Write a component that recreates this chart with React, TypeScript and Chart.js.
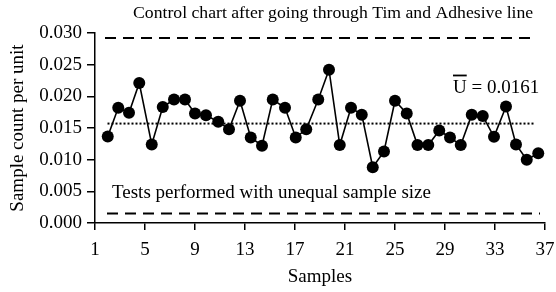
import React, { useEffect, useRef } from "react";
import { Chart, registerables } from "chart.js";

Chart.register(...registerables);

const sampleX = [
  2.02, 2.86, 3.72, 4.54, 5.54, 6.42, 7.32, 8.2, 9.0, 9.88,
  10.86, 11.72, 12.6, 13.46, 14.36, 15.22, 16.2, 17.06, 17.9, 18.86,
  19.72, 20.58, 21.48, 22.34, 23.22, 24.12, 25.0, 25.94, 26.8, 27.66,
  28.54, 29.4, 30.26, 31.14, 32.02, 32.92, 33.88, 34.68, 35.54, 36.46,
];
const sampleU = [
  0.01365, 0.0182, 0.0174, 0.0221, 0.0124, 0.0183, 0.0195, 0.0195, 0.0173, 0.0170,
  0.0160, 0.0148, 0.0193, 0.0135, 0.0122, 0.0195, 0.0182, 0.0135, 0.0148, 0.0195,
  0.0242, 0.0123, 0.0182, 0.0171, 0.0088, 0.0113, 0.0193, 0.0173, 0.0123, 0.0123,
  0.0146, 0.0135, 0.0123, 0.0171, 0.0169, 0.0136, 0.0184, 0.0124, 0.0100, 0.0110,
];
const uclX = [1.8, 35.8];
const uclValue = 0.0292;
const lclX = [1.96, 36.6];
const lclValue = 0.0015;
const meanX = [2.0, 36.2];
const meanValue = 0.0157;
const meanLabel = "U = 0.0161";
const xTicks = [1, 5, 9, 13, 17, 21, 25, 29, 33, 37];
const yTicks = [0, 0.005, 0.01, 0.015, 0.02, 0.025, 0.03];
const chartTitle = "Control chart after going through Tim and Adhesive line";
const noteText = "Tests performed with unequal sample size";
const xTitle = "Samples";
const yTitle = "Sample count per unit";

const FONT = '"Liberation Serif", "Times New Roman", serif';

const textPlugin = {
  id: "textPlugin",
  afterDraw(chart: any) {
    const ctx = chart.ctx;
    const xs = chart.scales.x;
    const ys = chart.scales.y;
    ctx.save();
    ctx.fillStyle = "#000";
    ctx.textAlign = "left";
    ctx.textBaseline = "alphabetic";
    ctx.font = `17.7px ${FONT}`;
    ctx.fillText(chartTitle, xs.getPixelForValue(4.04), ys.getPixelForValue(0.03237));
    ctx.font = `19px ${FONT}`;
    ctx.fillText(noteText, xs.getPixelForValue(2.36), ys.getPixelForValue(0.00387));
    const ux = xs.getPixelForValue(29.64);
    const uy = ys.getPixelForValue(0.02053);
    ctx.fillText(meanLabel, ux, uy);
    const uw = ctx.measureText("U").width;
    ctx.strokeStyle = "#000";
    ctx.lineWidth = 1.8;
    ctx.beginPath();
    ctx.moveTo(ux, uy - 17.5);
    ctx.lineTo(ux + uw, uy - 17.5);
    ctx.stroke();
    ctx.restore();
  },
};

export default function App() {
  const ref = useRef<HTMLCanvasElement | null>(null);
  useEffect(() => {
    if (!ref.current) return;
    const chart = new Chart(ref.current, {
      type: "line",
      data: {
        datasets: [
          {
            data: sampleX.map((x, i) => ({ x, y: sampleU[i] })),
            borderColor: "#000",
            borderWidth: 1.6,
            pointRadius: 6,
            pointBackgroundColor: "#000",
            pointBorderColor: "#000",
            pointBorderWidth: 0,
            tension: 0,
          },
          {
            data: uclX.map((x) => ({ x, y: uclValue })),
            borderColor: "#000",
            borderWidth: 2,
            borderDash: [11, 7],
            pointRadius: 0,
          },
          {
            data: lclX.map((x) => ({ x, y: lclValue })),
            borderColor: "#000",
            borderWidth: 2,
            borderDash: [11, 7],
            pointRadius: 0,
          },
          {
            data: meanX.map((x) => ({ x, y: meanValue })),
            borderColor: "#000",
            borderWidth: 2,
            borderDash: [2, 2],
            pointRadius: 0,
          },
        ],
      },
      options: {
        responsive: false,
        animation: false,
        layout: { padding: { top: 33, right: 11, left: 0, bottom: 0 } },
        plugins: { legend: { display: false }, tooltip: { enabled: false }, title: { display: false } },
        scales: {
          x: {
            type: "linear",
            min: 1,
            max: 37,
            afterBuildTicks: (axis: any) => {
              axis.ticks = xTicks.map((v) => ({ value: v }));
            },
            afterFit: (axis: any) => {
              axis.height = 69;
              axis.paddingLeft = 0;
              axis.paddingRight = 0;
            },
            ticks: {
              color: "#000",
              font: { family: FONT, size: 19 },
              padding: 9,
              maxRotation: 0,
              autoSkip: false,
            },
            grid: {
              drawOnChartArea: false,
              drawTicks: true,
              tickLength: 7,
              color: "#000",
              lineWidth: 1.5,
            },
            border: { display: true, color: "#000", width: 1.5 },
            title: {
              display: true,
              text: xTitle,
              color: "#000",
              font: { family: FONT, size: 19 },
              padding: { top: 0, bottom: 4 },
            },
          },
          y: {
            type: "linear",
            min: 0,
            max: 0.03,
            afterBuildTicks: (axis: any) => {
              axis.ticks = yTicks.map((v) => ({ value: v }));
            },
            afterFit: (axis: any) => {
              axis.width = 95;
              axis.paddingTop = 0;
              axis.paddingBottom = 0;
            },
            ticks: {
              color: "#000",
              font: { family: FONT, size: 19 },
              padding: 5,
              callback: (v: any) => Number(v).toFixed(3),
            },
            grid: {
              drawOnChartArea: false,
              drawTicks: true,
              tickLength: 8,
              color: "#000",
              lineWidth: 1.5,
            },
            border: { display: true, color: "#000", width: 1.5 },
            title: {
              display: true,
              text: yTitle,
              color: "#000",
              font: { family: FONT, size: 19 },
              padding: { top: 7, bottom: 0 },
            },
          },
        },
      },
      plugins: [textPlugin],
    });
    return () => chart.destroy();
  }, []);
  return (
    <div style={{ position: "fixed", left: 0, top: 0, width: 556, height: 292, background: "#fff" }}>
      <canvas ref={ref} width={556} height={292} style={{ display: "block" }} />
    </div>
  );
}
